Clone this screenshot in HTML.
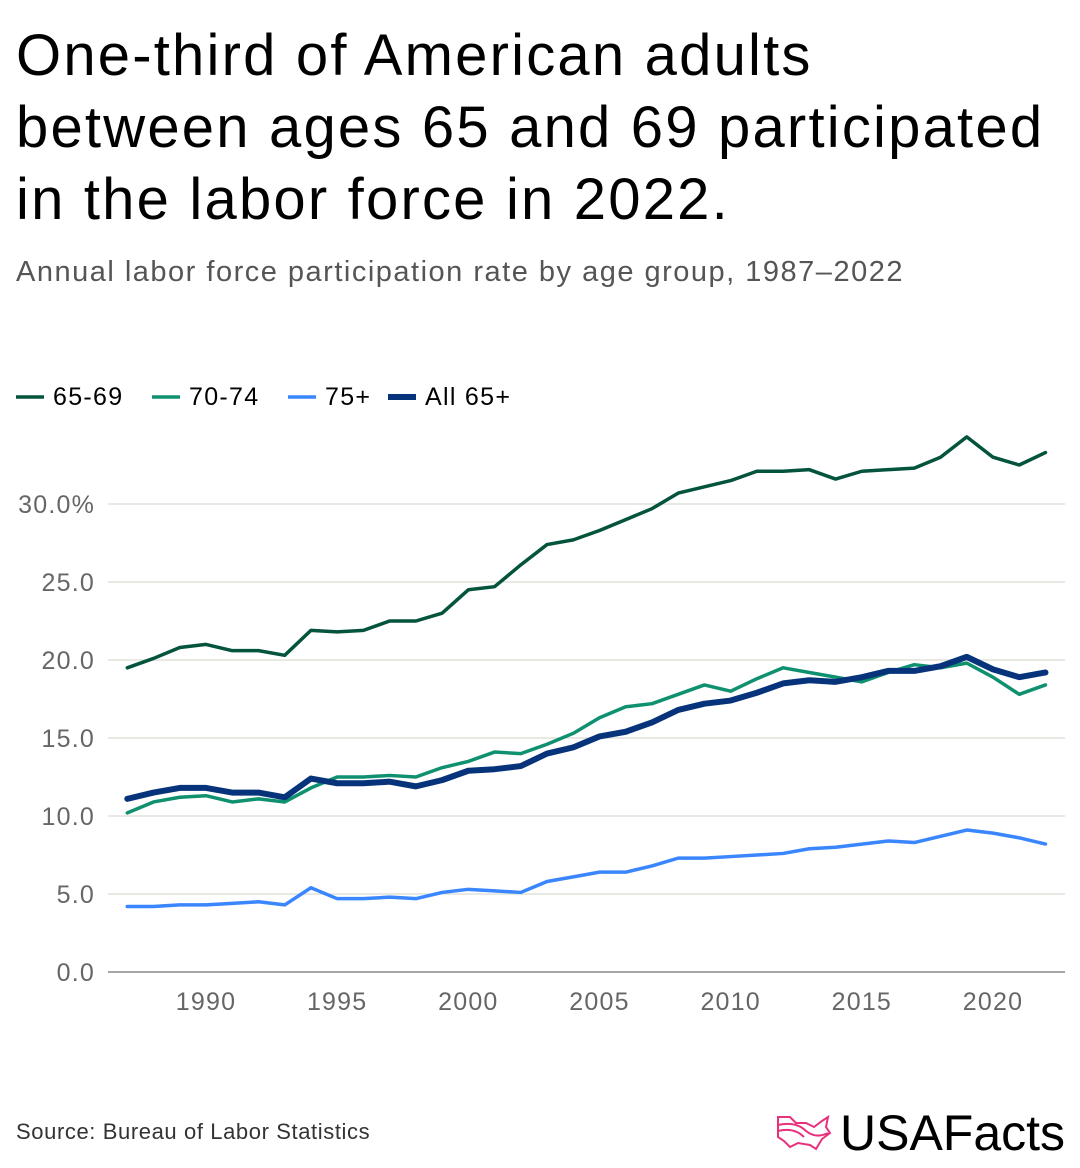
<!DOCTYPE html>
<html><head><meta charset="utf-8"><style>
body{margin:0;width:1080px;height:1168px;background:#fff;font-family:"Liberation Sans",sans-serif;overflow:hidden;position:relative}
h1{position:absolute;left:16px;top:20px;margin:0;font-size:58px;line-height:72px;font-weight:500;color:#000;letter-spacing:2.2px}
.sub{position:absolute;left:16px;top:256px;font-size:29px;color:#555;letter-spacing:1.5px}
.src{position:absolute;left:16px;top:1119px;font-size:22px;color:#333;letter-spacing:0.6px}
.logo{position:absolute;left:776px;top:1104px;display:flex;align-items:center}
.logo span{font-size:50px;font-weight:500;letter-spacing:0px;color:#000;margin-left:8px}
</style></head><body>
<h1>One-third of American adults<br>between ages 65 and 69 participated<br>in the labor force in 2022.</h1>
<div class="sub">Annual labor force participation rate by age group, 1987–2022</div>
<svg id="chart" width="1080" height="1168" style="position:absolute;left:0;top:0"></svg>
<div class="src">Source: Bureau of Labor Statistics</div>
<div class="logo">
<svg width="56" height="40" viewBox="0 0 56 40"><path d="M2 4 L14 4 L20 10 L30 10 L38 14 L46 8 L52 4 L50 14 L54 20 L46 26 L40 36 L34 32 L22 30 L14 34 L8 28 L2 24 Z M2 12 Q20 8 30 18 Q40 26 52 20 M2 18 Q18 14 28 24" fill="none" stroke="#e8317d" stroke-width="2"/></svg>
<span>USAFacts</span></div>
<script>
const years=[];for(let y=1987;y<=2022;y++)years.push(y);
const s6569=[19.5,20.1,20.8,21.0,20.6,20.6,20.3,21.9,21.8,21.9,22.5,22.5,23.0,24.5,24.7,26.1,27.4,27.7,28.3,29.0,29.7,30.7,31.1,31.5,32.1,32.1,32.2,31.6,32.1,32.2,32.3,33.0,34.3,33.0,32.5,33.3];
const s7074=[10.2,10.9,11.2,11.3,10.9,11.1,10.9,11.8,12.5,12.5,12.6,12.5,13.1,13.5,14.1,14.0,14.6,15.3,16.3,17.0,17.2,17.8,18.4,18.0,18.8,19.5,19.2,18.9,18.6,19.2,19.7,19.5,19.8,18.9,17.8,18.4];
const s75=[4.2,4.2,4.3,4.3,4.4,4.5,4.3,5.4,4.7,4.7,4.8,4.7,5.1,5.3,5.2,5.1,5.8,6.1,6.4,6.4,6.8,7.3,7.3,7.4,7.5,7.6,7.9,8.0,8.2,8.4,8.3,8.7,9.1,8.9,8.6,8.2];
const sAll=[11.1,11.5,11.8,11.8,11.5,11.5,11.2,12.4,12.1,12.1,12.2,11.9,12.3,12.9,13.0,13.2,14.0,14.4,15.1,15.4,16.0,16.8,17.2,17.4,17.9,18.5,18.7,18.6,18.9,19.3,19.3,19.6,20.2,19.4,18.9,19.2];
const yTicks=[0,5,10,15,20,25,30];
const yLabels=["0.0","5.0","10.0","15.0","20.0","25.0","30.0%"];
const xTicks=[1990,1995,2000,2005,2010,2015,2020];
const NS="http://www.w3.org/2000/svg",svg=document.getElementById('chart');
const X=y=>206+(y-1990)*(993-206)/30, Y=v=>972-v*15.6;
function el(t,a){const e=document.createElementNS(NS,t);for(const k in a)e.setAttribute(k,a[k]);svg.appendChild(e);return e;}
yTicks.forEach((v,i)=>{
 const g=el('line',{x1:108,x2:1065,y1:Y(v),y2:Y(v),stroke:v===0?'#888':'#dcdcd4','stroke-width':v===0?1.5:1.2});
 
 
 const t=el('text',{x:95,y:Y(v)+9,'text-anchor':'end','font-size':25,'letter-spacing':1.2,fill:'#666','font-family':'Liberation Sans, sans-serif'});
 t.textContent=yLabels[i];
 
 
});
xTicks.forEach(y=>{
 const t=el('text',{x:X(y),y:1010,'text-anchor':'middle','font-size':25,'letter-spacing':1.2,fill:'#666','font-family':'Liberation Sans, sans-serif'});
 t.textContent=y;
 
 
});
const series=[[s75,'#3a86ff',3.5,'line-75-plus'],[s7074,'#0f9170',3.5,'line-70-74'],[sAll,'#06337a',6,'line-all-65-plus'],[s6569,'#03533d',3.5,'line-65-69']];
series.forEach(([d,c,w,n])=>{
 const p=el('polyline',{points:d.map((v,i)=>X(years[i])+','+Y(v)).join(' '),fill:'none',stroke:c,'stroke-width':w,'stroke-linejoin':'round','stroke-linecap':'round'});
 
 
});
const leg=[['65-69','#03533d',3.5,16],['70-74','#0f9170',3.5,152],['75+','#3a86ff',3.5,288],['All 65+','#06337a',6,388]];
leg.forEach(([l,c,w,x])=>{
 const m=el('line',{x1:x,x2:x+28,y1:397,y2:397,stroke:c,'stroke-width':w});
 
 
 const t=el('text',{x:x+37,y:405,'font-size':25,'letter-spacing':1.3,fill:'#000','font-family':'Liberation Sans, sans-serif'});
 t.textContent=l;
 
 
});
</script>
</body></html>
